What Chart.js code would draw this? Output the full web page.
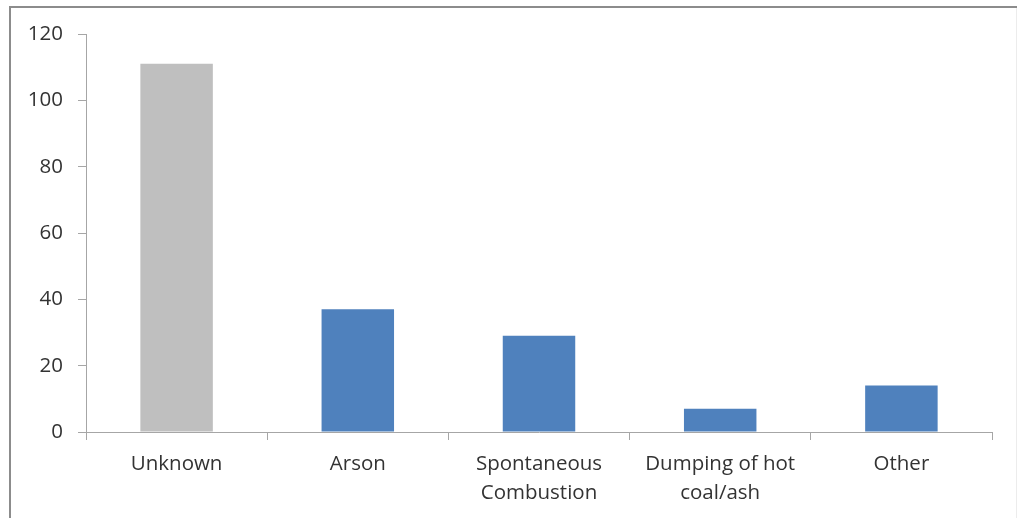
<!DOCTYPE html>
<html>
<head>
<meta charset="utf-8">
<script src="https://cdn.jsdelivr.net/npm/chart.js@4/dist/chart.umd.min.js"></script>
<style>
  html, body { margin: 0; padding: 0; background: #fff; }
  #wrap { width: 1017px; height: 518px; position: relative; }
</style>
</head>
<body>
<div id="wrap"><canvas id="c" width="1017" height="518"></canvas></div>
<script>
// Fire causes and number of incidents
const categories = [["Unknown"], ["Arson"], ["Spontaneous", "Combustion"], ["Dumping of hot", "coal/ash"], ["Other"]];
const incidents = [111, 37, 29, 7, 14];
const yTicks = [0, 20, 40, 60, 80, 100, 120];

const GREY_BAR = "#bfbfbf";
const BLUE_BAR = "#4f81bd";
const AXIS = "#a6a6a6";
const TEXT = "#333333";

// Frame along the top and left edges of the chart box
const framePlugin = {
  id: "frame",
  beforeDraw(chart) {
    const ctx = chart.ctx;
    ctx.save();
    ctx.fillStyle = "#fff";
    ctx.fillRect(0, 0, chart.width, chart.height);
    ctx.strokeStyle = "#8c8c8c";
    ctx.lineWidth = 2;
    ctx.beginPath();
    ctx.moveTo(9, 7);
    ctx.lineTo(chart.width, 7);
    ctx.moveTo(10, 6);
    ctx.lineTo(10, chart.height);
    ctx.stroke();
    ctx.strokeStyle = "#ececec";
    ctx.lineWidth = 1;
    ctx.beginPath();
    ctx.moveTo(1016.5, 8);
    ctx.lineTo(1016.5, chart.height);
    ctx.stroke();
    ctx.restore();
  }
};

new Chart(document.getElementById("c"), {
  type: "bar",
  data: {
    labels: categories,
    datasets: [{
      data: incidents,
      backgroundColor: incidents.map((v, i) => i === 0 ? GREY_BAR : BLUE_BAR),
      borderWidth: 0,
      categoryPercentage: 1.0,
      barPercentage: 0.4
    }]
  },
  options: {
    responsive: false,
    animation: false,
    devicePixelRatio: 1,
    layout: { padding: { top: 34, right: 25, bottom: 0, left: 0 } },
    plugins: { legend: { display: false }, tooltip: { enabled: false } },
    scales: {
      x: {
        grid: {
          offset: true,
          drawOnChartArea: false,
          drawTicks: true,
          tickLength: 8,
          color: AXIS,
          lineWidth: 1
        },
        border: { color: AXIS, width: 1 },
        ticks: {
          color: TEXT,
          padding: 9,
          maxRotation: 0,
          autoSkip: false,
          font: { family: "'Open Sans', sans-serif", size: 20.5, lineHeight: 1.45 }
        },
        afterFit(scale) { scale.height = 86; }
      },
      y: {
        min: 0,
        max: 120,
        afterBuildTicks(scale) { scale.ticks = yTicks.map(v => ({ value: v })); },
        grid: {
          drawOnChartArea: false,
          drawTicks: true,
          tickLength: 8,
          color: AXIS,
          lineWidth: 1
        },
        border: { color: AXIS, width: 1 },
        ticks: {
          color: TEXT,
          padding: 15,
          font: { family: "'Open Sans', sans-serif", size: 20.5 }
        },
        afterFit(scale) { scale.width = 86; }
      }
    }
  },
  plugins: [framePlugin]
});
</script>
</body>
</html>
